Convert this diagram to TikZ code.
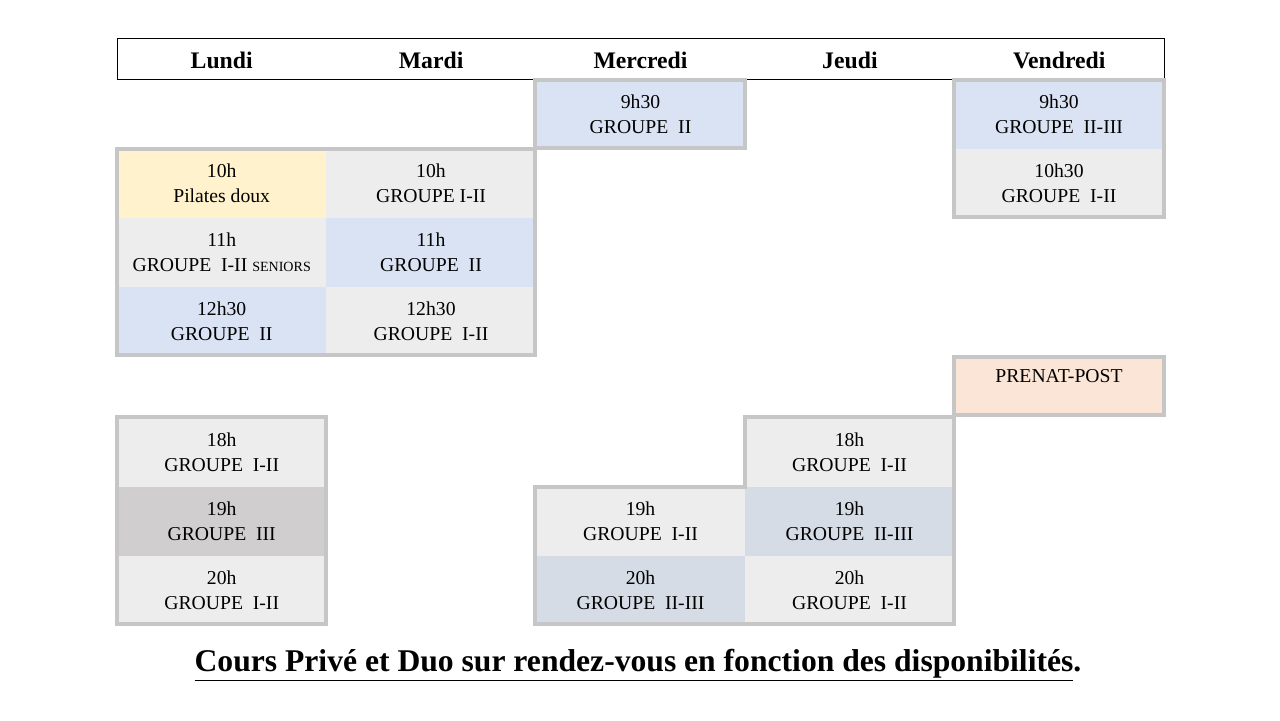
\documentclass[tikz,border=0pt]{standalone}
\usepackage{fontspec}
\setmainfont{Liberation Serif}
\definecolor{cblue}{HTML}{DAE3F3}
\definecolor{cgrey}{HTML}{EDEDED}
\definecolor{cyel}{HTML}{FFF2CC}
\definecolor{cpeach}{HTML}{FBE5D6}
\definecolor{cdark}{HTML}{D0CECE}
\definecolor{cbg}{HTML}{D6DCE5}
\tikzset{cellbox/.style={rectangle,inner sep=0pt,minimum width=209.4*0.02cm,minimum height=69*0.02cm,align=center,font=\fontsize{11.2}{14.3}\selectfont},
blockline/.style={draw=gray!45,line width=2pt},
hdr/.style={font=\bfseries\fontsize{13.5}{15}\selectfont}}
\begin{document}
\begin{tikzpicture}[x=0.02cm,y=-0.02cm]
\useasboundingbox (0,0) rectangle (1280,720);
\fill[white] (0,0) rectangle (1280,720);
\draw[line width=0.4pt] (117,38) rectangle (1164,79);
\foreach \n/\t [count=\i from 0] in {h1/Lundi,h2/Mardi,h3/Mercredi,h4/Jeudi,h5/Vendredi}
  \node[hdr] (\n) at (221.7+209.4*\i,60) {\t};
\newcommand{\cellat}[6]{\node[cellbox,fill=#4] (#1) at (#2,#3) {#5\\#6};}
\cellat{we1}{640.5}{114}{cblue}{9h30}{GROUPE\ \ II}
\draw[blockline] (535,80) rectangle (745,148);
\cellat{fr1}{1059}{114}{cblue}{9h30}{GROUPE\ \ II-III}
\cellat{fr2}{1059}{183}{cgrey}{10h30}{GROUPE\ \ I-II}
\draw[blockline] (954,80) rectangle (1164,217);
\cellat{mo1}{221.7}{183}{cyel}{10h}{Pilates doux}
\cellat{mo2}{221.7}{252.5}{cgrey}{11h}{GROUPE\ \ I-II {\fontsize{8}{9}\selectfont SENIORS}}
\cellat{mo3}{221.7}{321.5}{cblue}{12h30}{GROUPE\ \ II}
\cellat{tu1}{431}{183}{cgrey}{10h}{GROUPE I-II}
\cellat{tu2}{431}{252.5}{cblue}{11h}{GROUPE\ \ II}
\cellat{tu3}{431}{321.5}{cgrey}{12h30}{GROUPE\ \ I-II}
\draw[blockline] (117,149) rectangle (535,355);
\node[cellbox,fill=cpeach,minimum height=59*0.02cm] (fr3) at (1059,386) {};
\node[font=\fontsize{11.2}{12}\selectfont] (fr3t) at (1059,376) {PRENAT-POST};
\draw[blockline] (954,357) rectangle (1164,415);
\cellat{mo4}{221.7}{452}{cgrey}{18h}{GROUPE\ \ I-II}
\cellat{mo5}{221.7}{521.5}{cdark}{19h}{GROUPE\ \ III}
\cellat{mo6}{221.7}{590.5}{cgrey}{20h}{GROUPE\ \ I-II}
\draw[blockline] (117,417) rectangle (326,624);
\cellat{th1}{849.5}{452}{cgrey}{18h}{GROUPE\ \ I-II}
\cellat{we2}{640.5}{521.5}{cgrey}{19h}{GROUPE\ \ I-II}
\cellat{th2}{849.5}{521.5}{cbg}{19h}{GROUPE\ \ II-III}
\cellat{we3}{640.5}{590.5}{cbg}{20h}{GROUPE\ \ II-III}
\cellat{th3}{849.5}{590.5}{cgrey}{20h}{GROUPE\ \ I-II}
\draw[blockline] (745,417) -- (954,417) -- (954,624) -- (535,624) -- (535,487) -- (745,487) -- cycle;
\node[font=\bfseries\fontsize{18}{20}\selectfont] (foot) at (638,665) {\underline{Cours Privé et Duo sur rendez-vous en fonction des disponibilités}.};
\end{tikzpicture}
\end{document}
